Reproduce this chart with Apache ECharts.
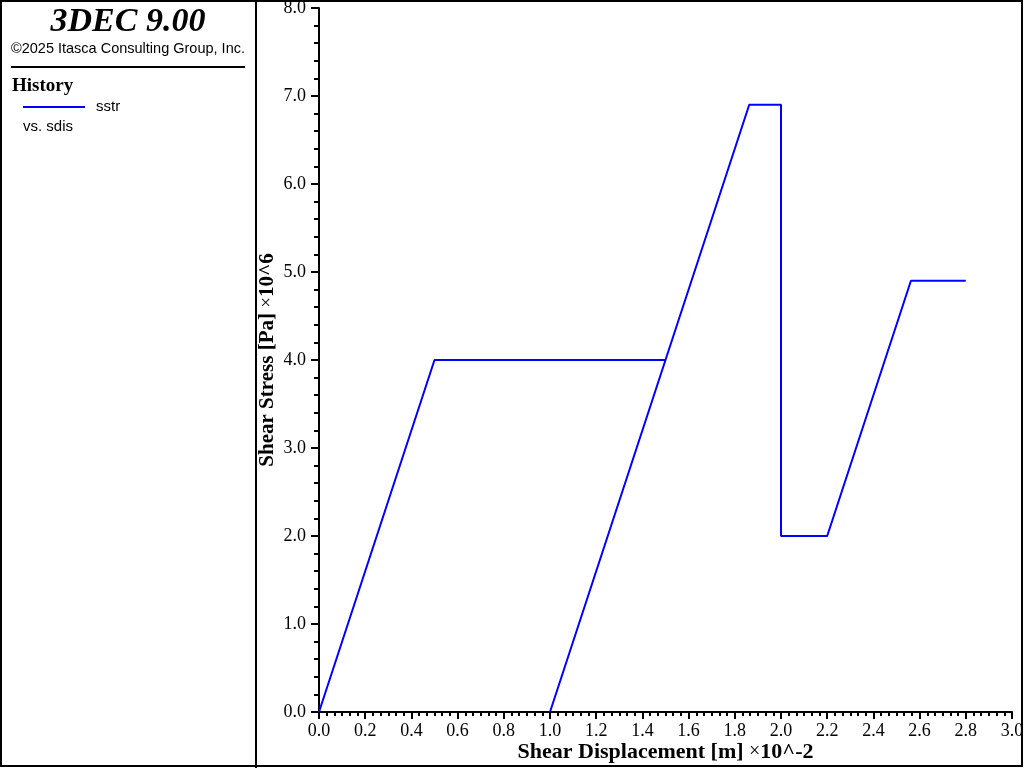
<!DOCTYPE html>
<html>
<head>
<meta charset="utf-8">
<script src="https://cdn.jsdelivr.net/npm/echarts@6/dist/echarts.min.js"></script>
<style>
	html, body { margin: 0; padding: 0; background: #fff; }
	#main { width: 1024px; height: 768px; }
</style>
</head>
<body>
<div id="main"></div>
<script>
// history: sstr vs. sdis (x in 10^-2 m, y in 10^6 Pa)
var sdis = [0, 0.5, 1.5, 1.0, 1.8625, 2.0, 2.0, 2.2, 2.5625, 2.8];
var sstr = [0, 4.0, 4.0, 0, 6.9, 6.9, 2.0, 2.0, 4.9, 4.9];

var xName = ['Shear Displacement [m] ', '×', '10^-2'];
var yName = ['Shear Stress [Pa] ', '×', '10^6'];

var serif = 'Liberation Serif';
var sans = 'Liberation Sans';

var chart = echarts.init(document.getElementById('main'));

var pts = [];
for (var i = 0; i < sdis.length; i++) {
	pts.push([sdis[i], sstr[i]]);
}

function axisName(parts, size) {
	return '{b' + size + '|' + parts[0] + '}{n' + size + '|' + parts[1] + '}{b' + size + '|' + parts[2] + '}';
}
var nameRich = {
	b22: { fontFamily: serif, fontWeight: 'bold', fontSize: 22, color: '#000' },
	n22: { fontFamily: serif, fontWeight: 'normal', fontSize: 20, color: '#000' },
	b21: { fontFamily: serif, fontWeight: 'bold', fontSize: 21, color: '#000' },
	n21: { fontFamily: serif, fontWeight: 'normal', fontSize: 19, color: '#000' }
};

chart.setOption({
	animation: false,
	backgroundColor: '#fff',
	grid: {
		left: 319,
		right: 12,
		top: 8,
		bottom: 56,
		containLabel: false,
		outerBoundsMode: 'none'
	},
	xAxis: {
		type: 'value',
		min: 0,
		max: 3,
		interval: 0.2,
		name: axisName(xName, 22),
		nameLocation: 'middle',
		nameGap: 29,
		nameMoveOverlap: false,
		nameTextStyle: { rich: nameRich },
		axisLine: { show: true, onZero: false, lineStyle: { color: '#000', width: 2 } },
		axisTick: { show: true, length: 7, lineStyle: { color: '#000', width: 2 } },
		minorTick: { show: true, splitNumber: 6, length: 4, lineStyle: { color: '#000', width: 2 } },
		axisLabel: {
			margin: 10,
			fontFamily: serif,
			fontSize: 18,
			color: '#000',
			formatter: function(v) { return v.toFixed(1); }
		},
		splitLine: { show: false }
	},
	yAxis: {
		type: 'value',
		min: 0,
		max: 8,
		interval: 1,
		name: axisName(yName, 21),
		nameLocation: 'middle',
		nameGap: 41,
		nameMoveOverlap: false,
		nameTextStyle: { rich: nameRich },
		axisLine: { show: true, onZero: false, lineStyle: { color: '#000', width: 2 } },
		axisTick: { show: true, length: 8, lineStyle: { color: '#000', width: 2 } },
		minorTick: { show: true, splitNumber: 5, length: 5, lineStyle: { color: '#000', width: 2 } },
		axisLabel: {
			margin: 13,
			fontFamily: serif,
			fontSize: 18,
			color: '#000',
			formatter: function(v) { return v.toFixed(1); }
		},
		splitLine: { show: false }
	},
	series: [{
		name: 'sstr',
		type: 'line',
		data: pts,
		showSymbol: false,
		lineStyle: { color: '#0000ff', width: 2 }
	}],
	graphic: [
		{
			type: 'rect',
			shape: { x: 1, y: 1, width: 1021, height: 765 },
			style: { fill: 'none', stroke: '#000', lineWidth: 2 },
			z: 100
		},
		{
			type: 'line',
			shape: { x1: 256, y1: 0, x2: 256, y2: 768 },
			style: { stroke: '#000', lineWidth: 2 }
		},
		{
			type: 'text',
			x: 128,
			y: 22,
			style: {
				text: '3DEC 9.00',
				font: 'italic bold 34px "Liberation Serif"',
				fill: '#000',
				align: 'center',
				verticalAlign: 'middle'
			}
		},
		{
			type: 'text',
			x: 128,
			y: 49,
			style: {
				text: '©2025 Itasca Consulting Group, Inc.',
				font: '14.5px "Liberation Sans"',
				fill: '#000',
				align: 'center',
				verticalAlign: 'middle'
			}
		},
		{
			type: 'line',
			shape: { x1: 11, y1: 67, x2: 245, y2: 67 },
			style: { stroke: '#000', lineWidth: 2 }
		},
		{
			type: 'text',
			x: 12,
			y: 86,
			style: {
				text: 'History',
				font: 'bold 19px "Liberation Serif"',
				fill: '#000',
				align: 'left',
				verticalAlign: 'middle'
			}
		},
		{
			type: 'line',
			shape: { x1: 23, y1: 107, x2: 85, y2: 107 },
			style: { stroke: '#0000ff', lineWidth: 2 }
		},
		{
			type: 'text',
			x: 96,
			y: 107,
			style: {
				text: 'sstr',
				font: '15px "Liberation Sans"',
				fill: '#000',
				align: 'left',
				verticalAlign: 'middle'
			}
		},
		{
			type: 'text',
			x: 23,
			y: 127,
			style: {
				text: 'vs. sdis',
				font: '15px "Liberation Sans"',
				fill: '#000',
				align: 'left',
				verticalAlign: 'middle'
			}
		}
	]
});
</script>
</body>
</html>
